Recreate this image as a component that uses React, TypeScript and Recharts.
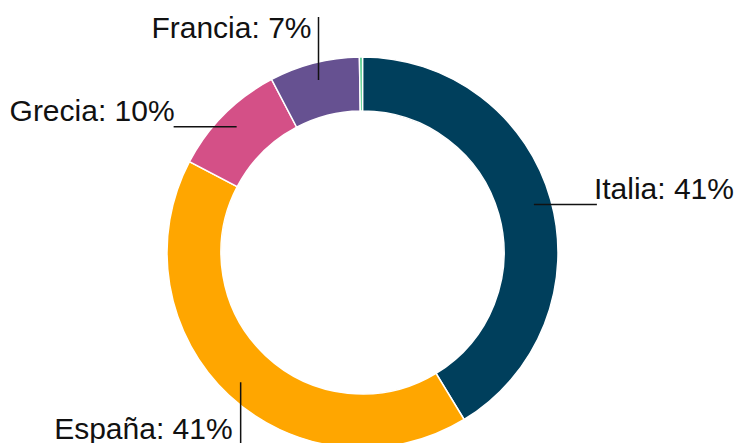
import React from 'react';
import { PieChart, Pie, Cell } from 'recharts';

// Share of each country (percent)
const countries = ['Italia', 'España', 'Grecia', 'Francia', 'Otros'];
const shares = [41.3, 41.4, 9.6, 7.45, 0.25];
const colors = ['#003f5c', '#ffa600', '#d45087', '#665191', '#3cc47c'];

const data = countries.map((name, i) => ({ name, value: shares[i] }));

// which way each label line goes (layout only)
const labelDirs = ['right', 'down', 'left', 'up', null];
const LINE_LEN = 63;
const RAD = Math.PI / 180;

const renderLabel = (props: any) => {
  const { cx, cy, midAngle, outerRadius, index, name, value } = props;
  const dir = labelDirs[index];
  if (!dir) return null;
  const r = outerRadius - 17.5;
  const x = cx + r * Math.cos(-midAngle * RAD);
  const y = cy + r * Math.sin(-midAngle * RAD);
  let x2 = x;
  let y2 = y;
  let tx = x;
  let ty = y;
  let anchor: 'start' | 'end' = 'start';
  if (dir === 'right') {
    x2 = x + LINE_LEN;
    tx = x2 - 3;
    ty = y - 5;
  } else if (dir === 'left') {
    x2 = x - LINE_LEN;
    tx = x2 + 1;
    ty = y - 5.5;
    anchor = 'end';
  } else if (dir === 'up') {
    y2 = y - LINE_LEN;
    tx = x - 7;
    ty = y2 + 20.5;
    anchor = 'end';
  } else {
    y2 = y + LINE_LEN;
    tx = x - 8;
    ty = y2 - 6;
    anchor = 'end';
  }
  return (
    <g key={`lbl-${index}`}>
      <line x1={x} y1={y} x2={x2} y2={y2} stroke="#111" strokeWidth={1.5} />
      <text
        x={tx}
        y={ty}
        textAnchor={anchor}
        fill="#111"
        fontSize={30}
        fontFamily="'Liberation Sans', Arial, Helvetica, sans-serif"
      >
        {`${name}: ${Math.round(value)}%`}
      </text>
    </g>
  );
};

export default function App() {
  return (
    <div style={{ position: 'absolute', left: 0, top: 0, width: 735, height: 443, background: '#fff' }}>
      <PieChart width={735} height={443} margin={{ top: 0, right: 0, bottom: 0, left: 0 }}>
        <Pie
          data={data}
          dataKey="value"
          nameKey="name"
          cx={362.5}
          cy={252.5}
          innerRadius={141.5}
          outerRadius={195.5}
          startAngle={90}
          endAngle={-270}
          stroke="#fff"
          strokeWidth={1.5}
          labelLine={false}
          label={renderLabel}
          isAnimationActive={false}
        >
          {data.map((d, i) => (
            <Cell key={d.name} fill={colors[i]} />
          ))}
        </Pie>
      </PieChart>
    </div>
  );
}
